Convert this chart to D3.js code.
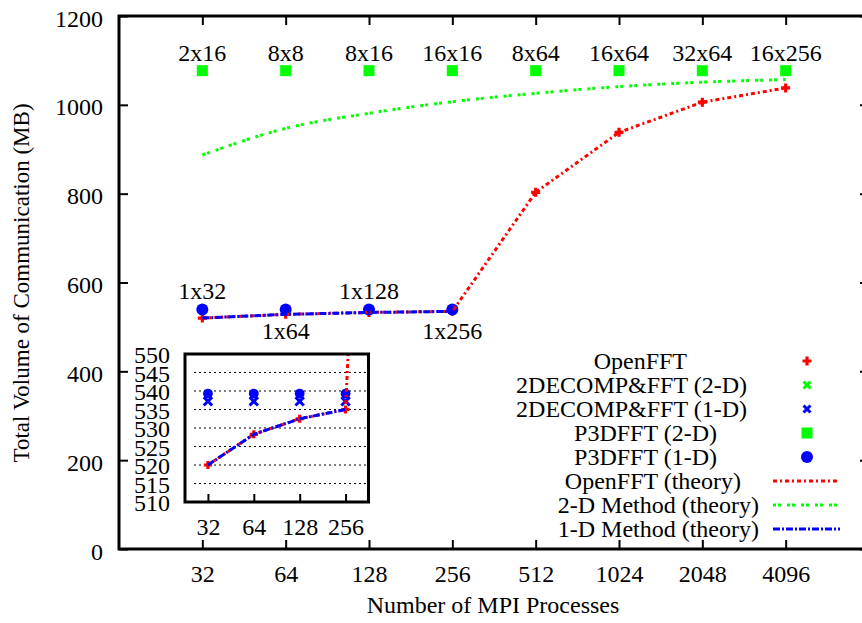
<!DOCTYPE html>
<html><head><meta charset="utf-8">
<script src="https://cdn.jsdelivr.net/npm/d3@7"></script>
<style>
html,body{margin:0;padding:0;background:#fff;}
text{font-family:"Liberation Serif","Times New Roman",serif;fill:#000;}
</style></head>
<body><svg id="c" width="862" height="623"></svg>
<script>
// ---------- data ----------
const procs = [32, 64, 128, 256, 512, 1024, 2048, 4096];
const xTickLabels = ["32","64","128","256","512","1024","2048","4096"];
const yTicks = [0, 200, 400, 600, 800, 1000, 1200];
const openfft = [520, 528.3, 532.5, 535, 803, 938, 1006, 1038];
const openfftTheory = [520, 528.3, 532.5, 535, 803, 938, 1006, 1038];
const twoDTheory = [887, 947, 981, 1007, 1026, 1041, 1051, 1057];
const oneDProcs = [32, 64, 128, 256];
const oneDTheory = [520, 528.3, 532.5, 535];
const decomp2D = [1074, 1074, 1074, 1074, 1074, 1074, 1074, 1074];
const decomp1D = [537.2, 537.2, 537.2, 537.2];
const p3dfft2D = [1077, 1077, 1077, 1077, 1077, 1077, 1077, 1077];
const p3dfft1D = [539.3, 539.3, 539.3, 539.3];
const grid2DLabels = ["2x16","8x8","8x16","16x16","8x64","16x64","32x64","16x256"];
const grid1DLabels = ["1x32","1x64","1x128","1x256"];
const insetYTicks = [510, 515, 520, 525, 530, 535, 540, 545, 550];
const insetXTicks = [32, 64, 128, 256];
const legendLabels = ["OpenFFT","2DECOMP&FFT (2-D)","2DECOMP&FFT (1-D)","P3DFFT (2-D)","P3DFFT (1-D)","OpenFFT (theory)","2-D Method (theory)","1-D Method (theory)"];

// ---------- styles ----------
const RED = "#ff0000", GREEN = "#00ff00", BLUE = "#0000ff";
const FS = 24;
const dashRed = "4,3,2,3", dashGreen = "3,2,3,6", dashBlue = "7,2,2,2";

const svg = d3.select("#c");
const x = d3.scaleLog().base(2).domain([16, 8192]).range([119, 869]);
const y = d3.scaleLinear().domain([0, 1200]).range([549, 16]);

function marker(g, type, cx, cy, color, s) {
  s = s || 1;
  if (type === "plus") {
    g.append("path").attr("d", `M${cx-4.5*s},${cy}H${cx+4.5*s}M${cx},${cy-4.5*s}V${cy+4.5*s}`)
      .attr("stroke", color).attr("stroke-width", 3.2).attr("fill", "none");
  } else if (type === "cross") {
    const a = 3.5*s;
    g.append("path").attr("d", `M${cx-a},${cy-a}L${cx+a},${cy+a}M${cx-a},${cy+a}L${cx+a},${cy-a}`)
      .attr("stroke", color).attr("stroke-width", 3).attr("fill", "none");
  } else if (type === "square") {
    const h = 5.5*s;
    g.append("rect").attr("x", cx-h).attr("y", cy-h).attr("width", 2*h).attr("height", 2*h).attr("fill", color);
  } else if (type === "circle") {
    g.append("circle").attr("cx", cx).attr("cy", cy).attr("r", 6*s).attr("fill", color);
  }
}

// ---------- axes ----------
const axB = svg.append("g").attr("transform", "translate(0,549)")
  .call(d3.axisBottom(x).tickValues(procs).tickFormat((d,i)=>xTickLabels[i]).tickSize(-9).tickPadding(16));
const axL = svg.append("g").attr("transform", "translate(119,0)")
  .call(d3.axisLeft(y).tickValues(yTicks).tickFormat(d3.format("d")).tickSize(-9).tickPadding(16));
const axT = svg.append("g").attr("transform", "translate(0,16)")
  .call(d3.axisTop(x).tickValues(procs).tickFormat("").tickSize(-9));
const axR = svg.append("g").attr("transform", "translate(869,0)")
  .call(d3.axisRight(y).tickValues(yTicks).tickFormat("").tickSize(-9));
[axB, axL, axT, axR].forEach(a => {
  a.select(".domain").remove();
  a.selectAll(".tick line").attr("stroke", "#000").attr("stroke-width", 2);
  a.selectAll(".tick text").attr("font-size", FS).attr("font-family", "Liberation Serif");
});
axL.selectAll(".tick text").attr("dy", "0.42em");
svg.append("rect").attr("x", 119).attr("y", 16).attr("width", 750).attr("height", 533)
  .attr("fill", "none").attr("stroke", "#000").attr("stroke-width", 3);

svg.append("text").attr("x", 493).attr("y", 613).attr("text-anchor", "middle").attr("font-size", FS)
  .text("Number of MPI Processes");
svg.append("text").attr("transform", "translate(29,283) rotate(-90)").attr("text-anchor", "middle").attr("font-size", 23)
  .text("Total Volume of Communication (MB)");

// ---------- main plot ----------
const plot = svg.append("g");
procs.forEach((p,i) => marker(plot, "plus", x(p), y(openfft[i]), RED));
procs.forEach((p,i) => marker(plot, "cross", x(p), y(decomp2D[i]), GREEN));
oneDProcs.forEach((p,i) => marker(plot, "cross", x(p), y(decomp1D[i]), BLUE));
procs.forEach((p,i) => marker(plot, "square", x(p), y(p3dfft2D[i]), GREEN));
oneDProcs.forEach((p,i) => marker(plot, "circle", x(p), y(p3dfft1D[i]), BLUE));

const lineLin = d3.line().x(d=>x(d[0])).y(d=>y(d[1]));
const lineSmooth = d3.line().x(d=>x(d[0])).y(d=>y(d[1])).curve(d3.curveMonotoneX);
plot.append("path").datum(procs.map((p,i)=>[p, openfftTheory[i]])).attr("d", lineLin)
  .attr("fill","none").attr("stroke",RED).attr("stroke-width",3).attr("stroke-dasharray",dashRed);
plot.append("path").datum(procs.map((p,i)=>[p, twoDTheory[i]])).attr("d", lineSmooth)
  .attr("fill","none").attr("stroke",GREEN).attr("stroke-width",3).attr("stroke-dasharray",dashGreen);
plot.append("path").datum(oneDProcs.map((p,i)=>[p, oneDTheory[i]])).attr("d", lineLin)
  .attr("fill","none").attr("stroke",BLUE).attr("stroke-width",3).attr("stroke-dasharray",dashBlue);

// labels
procs.forEach((p,i) => {
  svg.append("text").attr("x", x(p)).attr("y", y(p3dfft2D[i]) - 10).attr("text-anchor","middle")
    .attr("font-size", FS).text(grid2DLabels[i]);
});
oneDProcs.forEach((p,i) => {
  const below = i % 2 === 1;
  svg.append("text").attr("x", x(p)).attr("y", y(p3dfft1D[i]) + (below ? 30 : -10)).attr("text-anchor","middle")
    .attr("font-size", FS).text(grid1DLabels[i]);
});

// ---------- legend ----------
const lg = svg.append("g");
const lgTypes = [["plus",RED],["cross",GREEN],["cross",BLUE],["square",GREEN],["circle",BLUE]];
const lgLines = [[RED,dashRed],[GREEN,dashGreen],[BLUE,dashBlue]];
legendLabels.forEach((lab,i) => {
  const cy = 361 + i*24;
  lg.append("text").attr("x", 645 + 6*lab.length).attr("y", cy + 8).attr("text-anchor","end")
    .attr("font-size", FS).text(lab);
  if (i < 5) marker(lg, lgTypes[i][0], 807, cy, lgTypes[i][1]);
  else {
    const L = lgLines[i-5];
    lg.append("line").attr("x1",773).attr("x2",840).attr("y1",cy).attr("y2",cy)
      .attr("stroke",L[0]).attr("stroke-width",3).attr("stroke-dasharray",L[1]);
  }
});

// ---------- inset ----------
const xi = d3.scaleLog().base(2).domain([Math.pow(2,4.5), Math.pow(2,8.5)]).range([185, 368.5]);
const yi = d3.scaleLinear().domain([510, 550]).range([502, 354]);
const ins = svg.append("g");
ins.append("rect").attr("x",185).attr("y",354).attr("width",183.5).attr("height",148).attr("fill","#fff");
ins.append("clipPath").attr("id","ic").append("rect").attr("x",185).attr("y",354).attr("width",183.5).attr("height",148);
insetYTicks.slice(1,-1).forEach(v => {
  ins.append("line").attr("x1",194).attr("x2",366).attr("y1",yi(v)).attr("y2",yi(v))
    .attr("stroke","#000").attr("stroke-width",1).attr("stroke-dasharray","2,3");
});
const iax = ins.append("g").attr("transform","translate(0,502)")
  .call(d3.axisBottom(xi).tickValues(insetXTicks).tickFormat(d3.format("d")).tickSize(-8).tickPadding(16));
iax.select(".domain").remove();
iax.selectAll(".tick line").attr("stroke","#000").attr("stroke-width",2);
iax.selectAll(".tick text").attr("font-size",FS).attr("font-family","Liberation Serif");
const iay = ins.append("g").attr("transform","translate(185,0)")
  .call(d3.axisLeft(yi).tickValues(insetYTicks).tickSize(0).tickPadding(15));
iay.select(".domain").remove();
iay.selectAll(".tick text").attr("font-size",FS).attr("font-family","Liberation Serif").attr("dy","0.36em");

const ip = ins.append("g").attr("clip-path","url(#ic)");
const xiExt = procs.map((p,i)=>[p, openfftTheory[i]]);
insetXTicks.forEach((p,i) => marker(ip, "plus", xi(p), yi(openfft[i]), RED, 0.9));
insetXTicks.forEach((p,i) => marker(ip, "cross", xi(p), yi(decomp1D[i]), BLUE, 1.2));
insetXTicks.forEach((p,i) => marker(ip, "circle", xi(p), yi(p3dfft1D[i]), BLUE, 0.82));
const iLine = d3.line().x(d=>xi(d[0])).y(d=>yi(d[1]));
ip.append("path").datum(xiExt.slice(0,6)).attr("d", iLine)
  .attr("fill","none").attr("stroke",RED).attr("stroke-width",3).attr("stroke-dasharray",dashRed);
ip.append("path").datum(oneDProcs.map((p,i)=>[p, oneDTheory[i]])).attr("d", iLine)
  .attr("fill","none").attr("stroke",BLUE).attr("stroke-width",3).attr("stroke-dasharray",dashBlue);
ins.append("rect").attr("x",185).attr("y",354).attr("width",183.5).attr("height",148)
  .attr("fill","none").attr("stroke","#000").attr("stroke-width",3);
</script>
</body></html>
